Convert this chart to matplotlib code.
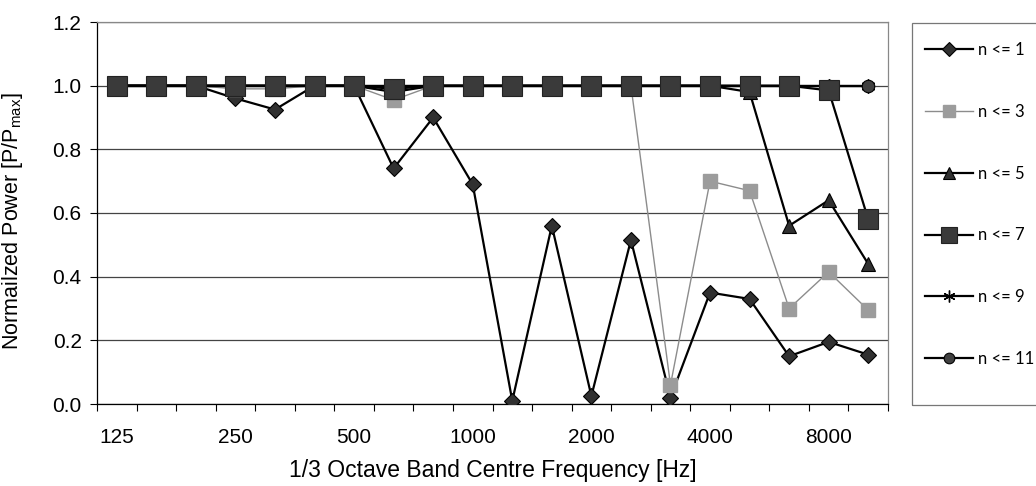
import matplotlib
matplotlib.use("Agg")
import matplotlib.pyplot as plt
from matplotlib.patches import Rectangle

# 1/3 octave band centre frequencies (Hz)
bands = ["125", "160", "200", "250", "315", "400", "500", "630", "800", "1000",
         "1250", "1600", "2000", "2500", "3150", "4000", "5000", "6300", "8000", "10000"]
shown_labels = ["125", "250", "500", "1000", "2000", "4000", "8000"]

# normalized power per band for each mode-count limit
n1 = [1.0, 1.0, 1.0, 0.96, 0.925, 1.0, 1.0, 0.74, 0.90, 0.69,
      0.01, 0.56, 0.025, 0.515, 0.02, 0.35, 0.33, 0.15, 0.195, 0.155]
n3 = [1.0, 1.0, 1.0, 0.99, 0.99, 1.0, 1.0, 0.955, 1.0, 1.0,
      1.0, 1.0, 1.0, 1.0, 0.06, 0.70, 0.67, 0.30, 0.415, 0.295]
n5 = [1.0, 1.0, 1.0, 1.0, 1.0, 1.0, 1.0, 0.98, 1.0, 1.0,
      1.0, 1.0, 1.0, 1.0, 1.0, 1.0, 0.98, 0.56, 0.64, 0.44]
n7 = [1.0, 1.0, 1.0, 1.0, 1.0, 1.0, 1.0, 0.99, 1.0, 1.0,
      1.0, 1.0, 1.0, 1.0, 1.0, 1.0, 1.0, 1.0, 0.985, 0.58]
n9 = [1.0] * 20
n11 = [1.0] * 20

plt.rcParams["font.family"] = ["Liberation Sans", "DejaVu Sans"]

fig = plt.figure(figsize=(10.36, 4.86), dpi=100)
ax = fig.add_axes([97 / 1036, 1 - 404 / 486, (888 - 97) / 1036, (404 - 22) / 486])

x = list(range(len(bands)))
dark = "#303030"
ax.plot(x, n1, color="black", lw=1.6, marker="D", ms=8.5, mfc=dark, mec="black",
        mew=0.8, label="n <= 1", zorder=3)
ax.plot(x, n3, color="#8c8c8c", lw=1.0, marker="s", ms=10, mfc="#9c9c9c",
        mec="#9c9c9c", label="n <= 3", zorder=3)
ax.plot(x, n5, color="black", lw=1.6, marker="^", ms=10, mfc=dark, mec="black",
        mew=0.8, label="n <= 5", zorder=3)
ax.plot(x, n9, color="black", lw=1.6, marker=(6, 2, 0), ms=10, mfc=dark, mec="black",
        mew=1.0, label="n <= 9", zorder=3)
ax.plot(x, n11, color="black", lw=1.6, marker="o", ms=9, mfc="#404040", mec="black",
        mew=0.8, label="n <= 11", zorder=3)
# the large squares sit on top of the n<=9 / n<=11 markers
ax.plot(x, n7, color="black", lw=1.6, marker="s", ms=14, mfc="#3a3a3a", mec="#222222",
        mew=0.8, label="n <= 7", zorder=4)

ax.set_xlim(-0.5, len(bands) - 0.5)
ax.set_ylim(0, 1.2)
ax.set_yticks([0.0, 0.2, 0.4, 0.6, 0.8, 1.0, 1.2])
ax.set_yticklabels([f"{v:.1f}" for v in [0.0, 0.2, 0.4, 0.6, 0.8, 1.0, 1.2]])
ax.yaxis.grid(True, color="#444444", lw=0.9)
ax.set_axisbelow(True)

# category labels every third band, tick marks at band boundaries
major = [bands.index(b) for b in shown_labels]
ax.set_xticks(major)
ax.set_xticklabels(shown_labels)
ax.set_xticks([i - 0.5 for i in range(len(bands) + 1)], minor=True)
ax.tick_params(axis="x", which="major", length=0, pad=17, labelsize=15)
ax.tick_params(axis="x", which="minor", length=5, width=0.8, direction="out")
ax.tick_params(axis="y", length=5, width=0.8, direction="out", pad=6, labelsize=15)

for s in ["top", "right"]:
    ax.spines[s].set_color("#888888")
    ax.spines[s].set_linewidth(0.9)
for s in ["left", "bottom"]:
    ax.spines[s].set_color("black")
    ax.spines[s].set_linewidth(0.9)

ax.set_xlabel("1/3 Octave Band Centre Frequency [Hz]", fontsize=16.5, labelpad=9)
ax.set_ylabel(r"Normailzed Power [P/P$_\mathregular{max}$]", fontsize=15.5)
ax.yaxis.set_label_coords(-0.091, 0.48)

# legend box to the right of the plot
fig.patches.append(Rectangle((912 / 1036, 1 - 405 / 486), 0.2, (405 - 23) / 486,
                             transform=fig.transFigure, fill=False,
                             edgecolor="#777777", lw=0.9))
handles, labels = ax.get_legend_handles_labels()
order = [0, 1, 2, 5, 3, 4]
fig.legend([handles[i] for i in order], [labels[i] for i in order], loc="upper left",
           bbox_to_anchor=(925 / 1036, 1 - 42 / 486), frameon=False,
           borderpad=0, borderaxespad=0, handlelength=2.9, handletextpad=0.3,
           labelspacing=2.75, markerscale=0.85, prop={"family": "Lato", "size": 12})

fig.savefig("out.png", dpi=100)
